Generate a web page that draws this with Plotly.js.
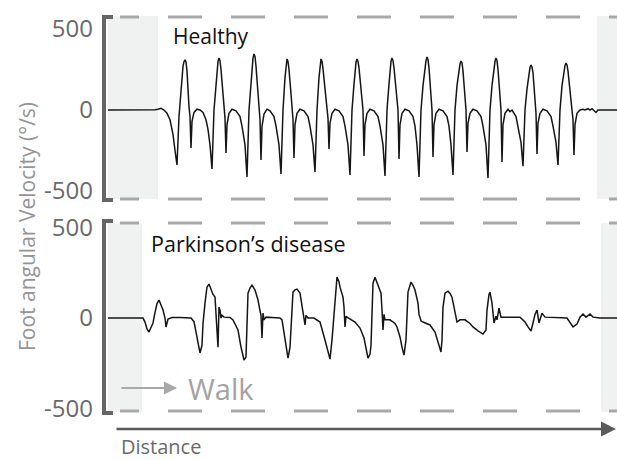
<!DOCTYPE html>
<html>
<head>
<meta charset="utf-8">
<script src="https://cdn.plot.ly/plotly-3.0.1.min.js"></script>
<style>html,body{margin:0;padding:0;background:#fff;}#chart{width:617px;height:460px;}</style>
</head>
<body>
<div id="chart"></div>
<script>
// distance samples (arbitrary units along the walk) and foot angular velocity (deg/s)
var healthyX = [0,32,47,50,53,56,59,62,65,67,
 69,71,73,75,76,77,78,79,81,82,83,84,86,89,92,95,98,100,102,
 104,106,108,109,110,111,112,113,115,116,117,118,119,121,124,128,132,134,137,
 139,141,143,144,145,146,147,148,150,151,152,153,154,156,159,162,166,168,171,
 173,175,177,178,179,180,181,183,184,185,186,187,189,192,196,200,202,205,
 207,209,211,212,213,214,215,217,219,220,221,222,224,227,231,235,237,240,
 242,244,246,247,248,249,250,251,253,255,256,257,259,262,266,270,272,275,
 277,279,281,282,283,284,285,286,288,290,291,292,294,297,301,305,307,309,
 311,313,315,317,318,319,320,321,323,324,325,326,328,331,335,339,341,343,
 345,347,349,351,352,353,354,355,357,358,359,360,362,365,369,373,375,378,
 380,382,384,386,387,388,389,390,392,393,394,395,397,400,402,404,408,410,413,
 415,417,419,421,422,423,424,425,427,428,429,430,432,435,439,443,445,448,
 450,452,454,456,457,458,459,460,462,464,465,466,467,469,472,475,477,480,482,484,486,488,490,509];
var healthyV = [0,0,2,5,10,0,-20,-60,-150,-250,
 -339,-40,150,270,298,309,296,240,20,-40,-234,-70,-15,5,0,-15,-60,-120,-215,
 -364,0,150,228,300,321,305,250,120,10,-50,-265,-90,-20,5,-5,-40,-100,-215,
 -413,0,160,250,320,346,330,270,120,10,-60,-308,-100,-25,5,-5,-40,-100,-215,
 -395,0,200,290,315,300,250,100,0,-60,-296,-90,-20,5,-5,-40,-100,-215,
 -383,0,200,290,315,300,255,130,10,-50,-241,-80,-20,5,-5,-40,-100,-215,
 -401,0,160,240,295,315,300,260,120,0,-284,-90,-20,5,-5,-40,-100,-215,
 -407,0,160,240,300,321,305,260,120,0,-302,-90,-20,5,-5,-40,-100,-215,
 -413,0,150,260,305,327,310,260,100,0,-290,-90,-20,5,-5,-40,-100,-215,
 -401,0,150,250,285,302,290,240,80,0,-259,-80,-20,5,-5,-40,-100,-215,
 -420,0,150,260,300,321,305,250,80,0,-321,-90,-20,5,-10,0,-40,-100,-200,
 -346,0,130,230,262,278,265,230,60,-20,-271,-80,-20,5,-5,-40,-100,-200,
 -339,0,150,240,275,290,278,240,100,0,-60,-278,-90,-20,0,5,0,8,0,8,-5,-15,0,0];

var parkX = [0,35,37,39,41,43,45,47,49,51,53,55,57,58,60,64,72,
 83,86,88,90,92,94,95,97,99,101,103,105,107,108,109,110,111,112,113,114,116,122,
 125,128,130,133,136,138,139,140,142,144,147,150,152,153,154,155,156,158,164,
 172,174,177,180,182,183,185,187,189,192,194,195,197,198,200,206,
 212,217,220,222,224,225,227,229,231,232,235,236,237,238,239,242,
 247,252,256,260,262,263,264,265,267,269,271,273,274,275,276,277,282,
 287,289,292,294,296,298,300,303,305,307,309,310,311,312,313,315,
 322,327,330,333,334,335,337,340,342,344,346,347,348,349,352,357,
 362,365,370,375,378,379,381,382,384,385,386,388,389,391,393,412,
 417,420,423,425,427,429,430,431,434,437,459,
 462,465,469,472,475,478,482,485,492,509];
var parkV = [0,0,-22,-60,-77,-55,-27,30,80,99,71,44,0,-49,-5,3,3,
 0,-20,-80,-150,-192,-150,-30,82,171,187,154,130,116,27,-40,-160,60,44,0,15,5,3,
 -10,-40,-66,-160,-231,-215,-50,137,165,181,154,99,40,15,-110,27,-10,5,3,
 0,-10,-104,-220,-160,-50,143,155,159,137,60,27,-38,15,0,0,
 -22,-121,-190,-226,-120,-50,137,225,200,170,115,60,-49,10,5,-5,
 -22,-55,-110,-220,-200,-150,100,192,225,192,165,137,44,-66,20,-10,-10,
 -30,-49,-104,-160,-204,-120,143,198,180,154,110,82,20,0,-15,-22,
 -38,-77,-130,-187,-120,60,137,148,135,115,60,33,0,-22,-10,-10,
 -30,-49,-71,-88,-66,44,130,143,82,20,-27,10,-10,55,5,5,
 -22,-49,-71,-27,20,44,0,-27,27,5,0,
 -22,-49,-33,5,22,5,22,5,0,0];

var tickVals = [-500, 0, 500];
var tickText = ['-500', '0', '500'];
var panelTitles = ['Healthy', 'Parkinson\u2019s disease'];
var yTitle = 'Foot angular Velocity (\u00b0/s)';

// page geometry helpers (decoration only)
var L = 108, W = 509, T = 16, H = 396;
function px(x){ return (x - L) / W; }
function py(y){ return (T + H - y) / H; }

var lineStyle = {color: '#151515', width: 1.5};
var traces = [
  {x: healthyX, y: healthyV, xaxis: 'x', yaxis: 'y', mode: 'lines', line: lineStyle, hoverinfo: 'skip'},
  {x: parkX, y: parkV, xaxis: 'x2', yaxis: 'y2', mode: 'lines', line: lineStyle, hoverinfo: 'skip'}
];

var tickFont = {family: 'Open Sans, sans-serif', size: 24, color: '#6a6a6a'};
var xa = {range: [0, 509], showgrid: false, zeroline: false, showline: false, showticklabels: false, ticks: '', fixedrange: true};
var ya = {showgrid: false, zeroline: false, showline: false, ticks: '', tickvals: tickVals, ticktext: tickText,
          tickfont: tickFont, ticklabelstandoff: 14, fixedrange: true};

var shade = '#f0f1f1';
var shapes = [
  {type: 'rect', xref: 'x', yref: 'y domain', x0: 0, x1: 50, y0: 0, y1: 1, fillcolor: shade, line: {width: 0}, layer: 'below'},
  {type: 'rect', xref: 'x', yref: 'y domain', x0: 489, x1: 509, y0: 0, y1: 1, fillcolor: shade, line: {width: 0}, layer: 'below'},
  {type: 'rect', xref: 'x2', yref: 'y2 domain', x0: 0, x1: 34, y0: 0, y1: 1, fillcolor: shade, line: {width: 0}, layer: 'below'},
  {type: 'rect', xref: 'x2', yref: 'y2 domain', x0: 493, x1: 509, y0: 0, y1: 1, fillcolor: shade, line: {width: 0}, layer: 'below'}
];
var dashPat = '19px,29px,34px,29px,34px,29px,34px,29px,34px,29px,34px,29px,34px,29px,34px,29px,34px,29px';
[17, 199, 223, 411].forEach(function(yy){
  shapes.push({type: 'line', xref: 'paper', yref: 'paper', x0: px(120), x1: 1, y0: py(yy), y1: py(yy),
               line: {color: '#a8a8a8', width: 3, dash: dashPat}, layer: 'below'});
});
// axis brackets
[[17, 200], [221, 413]].forEach(function(b){
  var path = 'M ' + px(113) + ' ' + py(b[0]) + ' L ' + px(104) + ' ' + py(b[0]) +
             ' L ' + px(104) + ' ' + py(b[1]) + ' L ' + px(113) + ' ' + py(b[1]);
  shapes.push({type: 'path', xref: 'paper', yref: 'paper', path: path, line: {color: '#666666', width: 4}});
});

var annFont = 'Open Sans, sans-serif';
var annotations = [
  {xref: 'paper', yref: 'paper', x: px(211), y: py(36), text: panelTitles[0], showarrow: false,
   xanchor: 'center', yanchor: 'middle', font: {family: annFont, size: 21, color: '#111'}},
  {xref: 'paper', yref: 'paper', x: px(248), y: py(243), text: panelTitles[1], showarrow: false,
   xanchor: 'center', yanchor: 'middle', font: {family: annFont, size: 21.5, color: '#111'}},
  {xref: 'paper', yref: 'paper', x: px(221), y: py(388), text: 'Walk', showarrow: false,
   xanchor: 'center', yanchor: 'middle', font: {family: annFont, size: 29, color: '#a3a3a3'}},
  {xref: 'paper', yref: 'paper', x: px(177), y: py(388), text: '', showarrow: true,
   ax: -57, ay: 0, arrowcolor: '#a8a8a8', arrowwidth: 2, arrowhead: 2, arrowsize: 1.3, standoff: 0},
  {xref: 'paper', yref: 'paper', x: px(617), y: py(429), text: '', showarrow: true,
   ax: -502, ay: 0, arrowcolor: '#5a5a5a', arrowwidth: 2.5, arrowhead: 2, arrowsize: 1.2, standoff: 0},
  {xref: 'paper', yref: 'paper', x: px(161), y: py(446), text: 'Distance', showarrow: false,
   xanchor: 'center', yanchor: 'middle', font: {family: annFont, size: 20, color: '#6a6a6a'}},
  {xref: 'paper', yref: 'paper', x: px(27), y: py(227), text: yTitle, showarrow: false, textangle: -90,
   xanchor: 'center', yanchor: 'middle', font: {family: annFont, size: 21, color: '#959595'}}
];

var layout = {
  width: 617, height: 460,
  margin: {l: 108, r: 0, t: 16, b: 48, pad: 0},
  paper_bgcolor: '#ffffff', plot_bgcolor: 'rgba(0,0,0,0)',
  showlegend: false,
  xaxis: Object.assign({}, xa, {anchor: 'y'}),
  xaxis2: Object.assign({}, xa, {anchor: 'y2', matches: 'x'}),
  yaxis: Object.assign({}, ya, {domain: [py(199), 1], range: [-549, 580]}),
  yaxis2: Object.assign({}, ya, {domain: [0, py(223)], range: [-517, 523]}),
  shapes: shapes,
  annotations: annotations
};

Plotly.newPlot('chart', traces, layout, {displayModeBar: false, staticPlot: true});
</script>
</body>
</html>
